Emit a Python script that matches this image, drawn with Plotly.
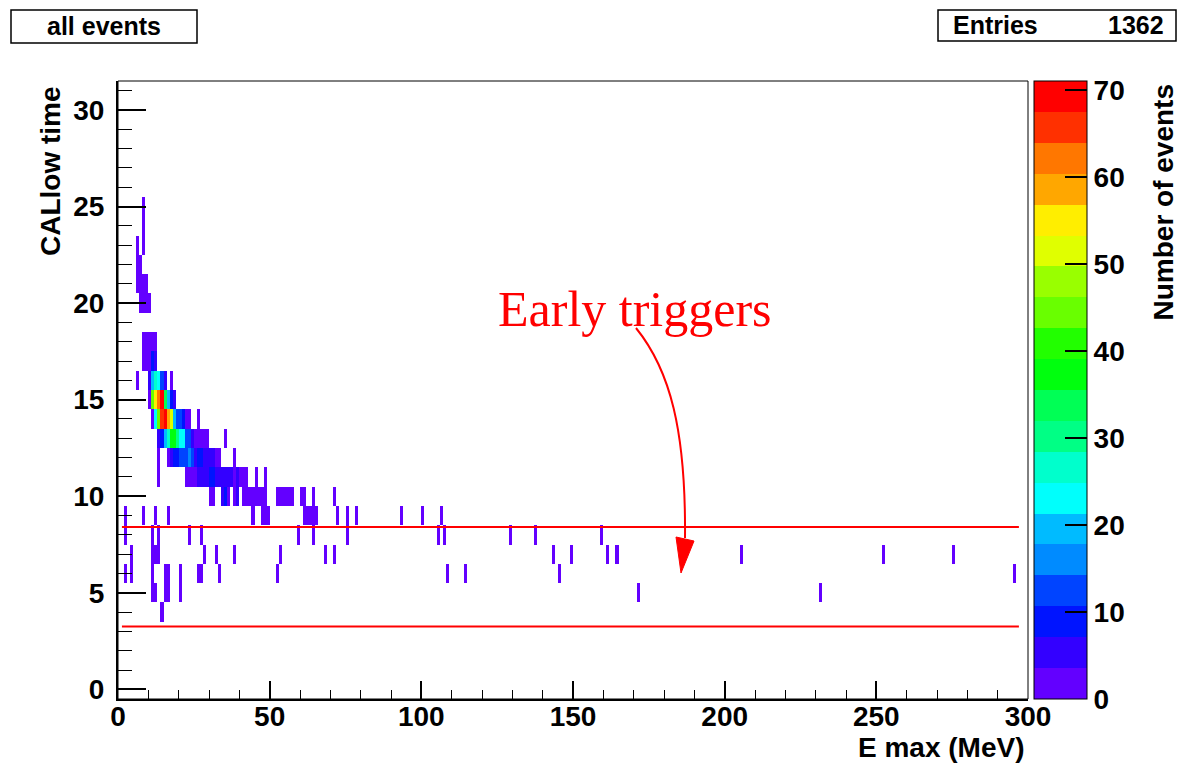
import colorsys
import numpy as np
import plotly.graph_objects as go

# ---------------- data ----------------
# histogram cells: for each CALlow-time row, the E-max bins (lower edge, MeV, 1 MeV bins) and counts
row_time = [25, 24, 23, 22, 21, 20, 18, 17, 16, 15, 14, 13, 12, 11, 10, 9, 8, 7, 6, 5, 4]
row_bins = [
    [8],
    [8],
    [6, 8],
    [6, 7],
    [6, 7, 8, 9],
    [7, 8, 9, 10],
    [8, 9, 10, 11, 12],
    [8, 9, 10, 11, 12],
    [6, 10, 11, 12, 13, 14, 15, 17],
    [10, 11, 12, 13, 14, 15, 16, 17, 18],
    [11, 12, 13, 14, 15, 16, 17, 18, 19, 20, 21, 22, 23, 26],
    [13, 14, 15, 16, 17, 18, 19, 20, 21, 22, 23, 24, 25, 26, 27, 28, 29, 35],
    [13, 16, 17, 18, 19, 20, 21, 22, 23, 24, 25, 26, 27, 28, 29, 30, 31, 32, 33, 38],
    [13, 22, 23, 24, 25, 26, 27, 28, 29, 30, 31, 32, 33, 34, 35, 36, 37, 38, 39, 40, 41, 42, 45, 48],
    [30, 31, 34, 35, 36, 38, 39, 41, 42, 43, 44, 45, 46, 47, 48, 52, 53, 54, 55, 56, 57, 60, 61, 64, 71],
    [2, 8, 12, 16, 44, 47, 48, 49, 61, 62, 63, 64, 65, 72, 75, 78, 93, 100, 106],
    [2, 11, 13, 23, 27, 59, 64, 75, 105, 107, 129, 137, 159],
    [4, 11, 12, 13, 28, 32, 38, 53, 68, 71, 143, 149, 161, 164, 205, 252, 275],
    [2, 4, 11, 15, 16, 20, 26, 27, 33, 52, 108, 114, 145, 295],
    [11, 12, 15, 16, 20, 171, 231],
    [14],
]
row_counts = [
    [1],
    [1],
    [1, 1],
    [1, 1],
    [1, 2, 1, 1],
    [1, 2, 2, 1],
    [2, 3, 2, 3, 2],
    [2, 3, 3, 8, 5],
    [1, 5, 19, 27, 23, 12, 6, 2],
    [3, 45, 55, 62, 70, 34, 18, 9, 5],
    [3, 24, 45, 66, 70, 60, 50, 18, 13, 13, 9, 3, 2, 1],
    [6, 10, 18, 28, 38, 37, 30, 23, 22, 13, 12, 5, 3, 2, 2, 2, 2, 1],
    [2, 2, 6, 9, 9, 12, 12, 12, 16, 12, 6, 9, 9, 6, 5, 5, 5, 3, 2, 2],
    [2, 2, 3, 3, 3, 5, 5, 4, 4, 9, 9, 5, 6, 6, 6, 6, 5, 3, 5, 3, 2, 2, 1, 1],
    [2, 2, 5, 8, 2, 3, 5, 2, 2, 2, 2, 2, 2, 1, 2, 2, 2, 2, 2, 2, 1, 1, 1, 1, 1],
    [1] * 19,
    [1] * 13,
    [1] * 17,
    [1] * 14,
    [1] * 7,
    [1],
]
cut_times = [8.4, 3.25]          # red selection lines (CALlow time)
cut_emax = [1.3, 297.0]          # horizontal extent of the red lines (MeV)
n_entries = 1362
x_ticks = [0, 50, 100, 150, 200, 250, 300]
y_ticks = [0, 5, 10, 15, 20, 25, 30]
z_ticks = [0, 10, 20, 30, 40, 50, 60, 70]
z_max = 71

# ---------------- build histogram ----------------
n_xbins, n_ybins = 300, 32
z = np.full((n_ybins, n_xbins), np.nan)
for t, bins, cnts in zip(row_time, row_bins, row_counts):
    for b, c in zip(bins, cnts):
        z[t, b] = c
xc = np.arange(n_xbins) + 0.5
yc = np.arange(n_ybins)

# ROOT "pretty" palette, 20 contour levels
ndiv = 20
cols = []
for k in range(ndiv):
    idx = int((k + 0.99) * 50 / ndiv)
    hue = 280 - (idx + 1) * 5.6
    r, g, b = colorsys.hls_to_rgb(hue / 360.0, 0.5, 1.0)
    cols.append(f"rgb({round(r*255)},{round(g*255)},{round(b*255)})")
cscale = []
for k, c in enumerate(cols):
    cscale.append([k / ndiv, c])
    cscale.append([(k + 1) / ndiv, c])

# ---------------- geometry helpers ----------------
W, H = 1178, 765
L, R, T, B = 118, 150, 81, 66
PW, PH = W - L - R, H - T - B


def px(xp):
    return (xp - L) / PW


def py(yp):
    return (H - B - yp) / PH


FONT = "Liberation Sans, Arial, Helvetica, sans-serif"

fig = go.Figure()
fig.add_trace(go.Heatmap(
    x=xc, y=yc, z=z, zmin=0, zmax=z_max, colorscale=cscale, zsmooth=False,
    hoverongaps=False,
    colorbar=dict(
        x=px(1034), xanchor="left", xpad=0, ypad=0,
        y=0.5, yanchor="middle", len=PH, lenmode="pixels",
        thickness=53, thicknessmode="pixels",
        tickvals=z_ticks, ticks="inside", ticklen=22, tickwidth=1.5, tickcolor="black",
        outlinewidth=1, outlinecolor="black",
        tickfont=dict(family=FONT, size=28, color="black", weight="bold"),
    ),
))
for ct in cut_times:
    fig.add_trace(go.Scatter(x=cut_emax, y=[ct, ct], mode="lines",
                             line=dict(color="red", width=2), hoverinfo="skip",
                             showlegend=False))

axfont = dict(family=FONT, size=28, color="black", weight="bold")
fig.update_layout(
    width=W, height=H, margin=dict(l=L, r=R, t=T, b=B),
    paper_bgcolor="white", plot_bgcolor="white", showlegend=False,
    xaxis=dict(range=[0, 300], tickvals=x_ticks, ticks="inside", ticklen=18, tickwidth=1.5,
               tickcolor="black", showgrid=False, zeroline=False, showline=True,
               linecolor="black", linewidth=2, tickfont=axfont, ticklabelstandoff=-9,
               minor=dict(dtick=10, ticks="inside", ticklen=9, tickcolor="black", tickwidth=1)),
    yaxis=dict(range=[-0.5, 31.5], tickvals=y_ticks, ticks="inside", ticklen=28, tickwidth=1.5,
               tickcolor="black", showgrid=False, zeroline=False, showline=True,
               linecolor="black", linewidth=2, tickfont=axfont, ticklabelstandoff=6,
               minor=dict(dtick=1, ticks="inside", ticklen=14, tickcolor="black", tickwidth=1)),
)

shapes = [
    dict(type="rect", xref="paper", yref="paper", x0=0, x1=1, y0=0, y1=1,
         line=dict(color="black", width=1)),
    dict(type="rect", xref="paper", yref="paper", x0=px(11), x1=px(197), y0=py(43), y1=py(10),
         line=dict(color="black", width=1.5), fillcolor="white"),
    dict(type="rect", xref="paper", yref="paper", x0=px(938), x1=px(1176), y0=py(41), y1=py(10),
         line=dict(color="black", width=1.5), fillcolor="white"),
]
# curved arrow
p0, p1, p2, p3 = (636, 328), (670, 370), (686, 430), (685, 538)
path = "M {},{} C {},{} {},{} {},{}".format(px(p0[0]), py(p0[1]), px(p1[0]), py(p1[1]),
                                           px(p2[0]), py(p2[1]), px(p3[0]), py(p3[1]))
shapes.append(dict(type="path", xref="paper", yref="paper", path=path,
                   line=dict(color="red", width=2)))
tri = [(676, 537), (694, 541), (681, 573)]
tpath = "M {},{} L {},{} L {},{} Z".format(px(tri[0][0]), py(tri[0][1]), px(tri[1][0]),
                                            py(tri[1][1]), px(tri[2][0]), py(tri[2][1]))
shapes.append(dict(type="path", xref="paper", yref="paper", path=tpath,
                   fillcolor="red", line=dict(color="red", width=1)))
fig.update_layout(shapes=shapes)

bold = dict(family=FONT, color="black", weight="bold")
ann = [
    dict(text="CALlow time", x=px(50), y=py(84), xanchor="center", yanchor="top",
         textangle=-90, font=dict(size=28, **bold)),
    dict(text="E max (MeV)", x=px(1027), y=py(748), xanchor="right", yanchor="middle",
         font=dict(size=28, **bold)),
    dict(text="Number of events", x=px(1163), y=py(82), xanchor="center", yanchor="top",
         textangle=-90, font=dict(size=28, **bold)),
    dict(text="all events", x=px(104), y=py(26), xanchor="center", yanchor="middle",
         font=dict(size=25, **bold)),
    dict(text="Entries", x=px(951), y=py(25), xanchor="left", yanchor="middle",
         font=dict(size=25, **bold)),
    dict(text=str(n_entries), x=px(1166), y=py(25), xanchor="right", yanchor="middle",
         font=dict(size=25, **bold)),
    dict(text="Early triggers", x=px(635), y=py(309), xanchor="center", yanchor="middle",
         font=dict(family="Liberation Serif, Times New Roman, serif", size=50, color="red")),
]
for a in ann:
    a.update(xref="paper", yref="paper", showarrow=False)
fig.update_layout(annotations=ann)

fig.write_html("out.html", config={"displayModeBar": False},
               post_script="document.body.style.margin='0';document.body.style.overflow='hidden';")
